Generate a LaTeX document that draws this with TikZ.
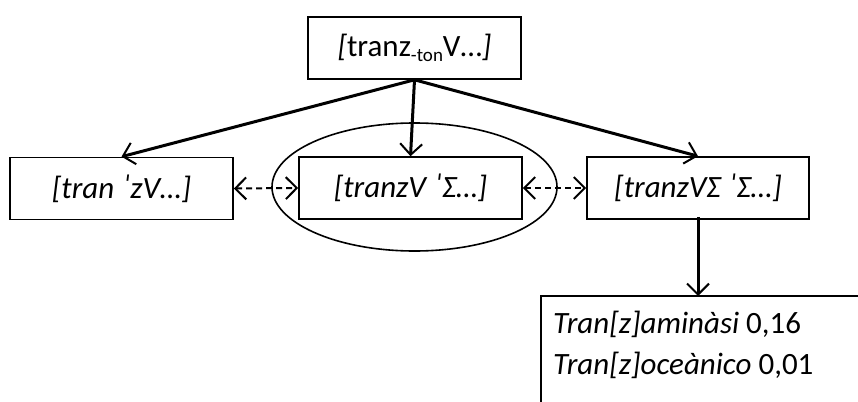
\documentclass[tikz,border=0pt]{standalone}
\usepackage{fontspec}
\setmainfont{Carlito}
\usetikzlibrary{arrows.meta,shapes.geometric}

\newcommand{\lowsub}[1]{\raisebox{-0.35ex}{\fontsize{19}{22}\selectfont #1}}

\begin{document}
\begin{tikzpicture}[x=1pt,y=-1pt,
    >={Straight Barb[length=11pt,width=22pt,line width=2pt]}]

      \clip (0,0) rectangle (858,401);
      \fill[white] (0,0) rectangle (858,401);

      \begin{scope}[every node/.style={draw,line width=1.6pt,inner sep=0pt,
          minimum height=62pt,font=\fontsize{31}{37}\selectfont}]
        \node[minimum width=213pt] (top) at (414.5,48) {\textit{[}tranz\lowsub{-ton}V…\textit{]}};
        \node[minimum width=223pt] (lft) at (121.5,188.5) {\textit{[tran ˈzV…]}};
        \node[minimum width=223pt] (mid) at (410.5,188) {\textit{[tranzV ˈΣ…]}};
        \node[minimum width=222pt] (rgt) at (698,188) {\textit{[tranzVΣ ˈΣ…]}};
      \end{scope}

      \node[draw,ellipse,line width=1.6pt,minimum width=285pt,minimum height=128pt] (ring) at (414.5,187) {};

      % words box, runs off the page
      \draw[line width=1.6pt] (880,296) -- (541,296) coordinate (wbox) -- (541,420);
      \node[anchor=north west,align=left,inner sep=0pt,
          font=\fontsize{31}{37}\selectfont] (words) at (553,311)
          {\textit{Tran[z]aminàsi} 0,16\\[4pt] \textit{Tran[z]oceànico} 0,01};
      \coordinate (wtop) at (698,296);

      \begin{scope}[every edge/.style={draw,line width=3pt,->}]
        \path (top.south) edge (lft.north);
        \path (top.south) edge (mid.north);
        \path (top.south) edge (rgt.north);
        \path ([yshift=3pt]rgt.south) edge (wtop);
      \end{scope}

      \begin{scope}[every edge/.style={draw,line width=2pt,dash pattern=on 6pt off 4pt,<->}]
        \path (lft.east) edge (mid.west);
        \path (mid.east) edge (rgt.west);
      \end{scope}

    \end{tikzpicture}
\end{document}
